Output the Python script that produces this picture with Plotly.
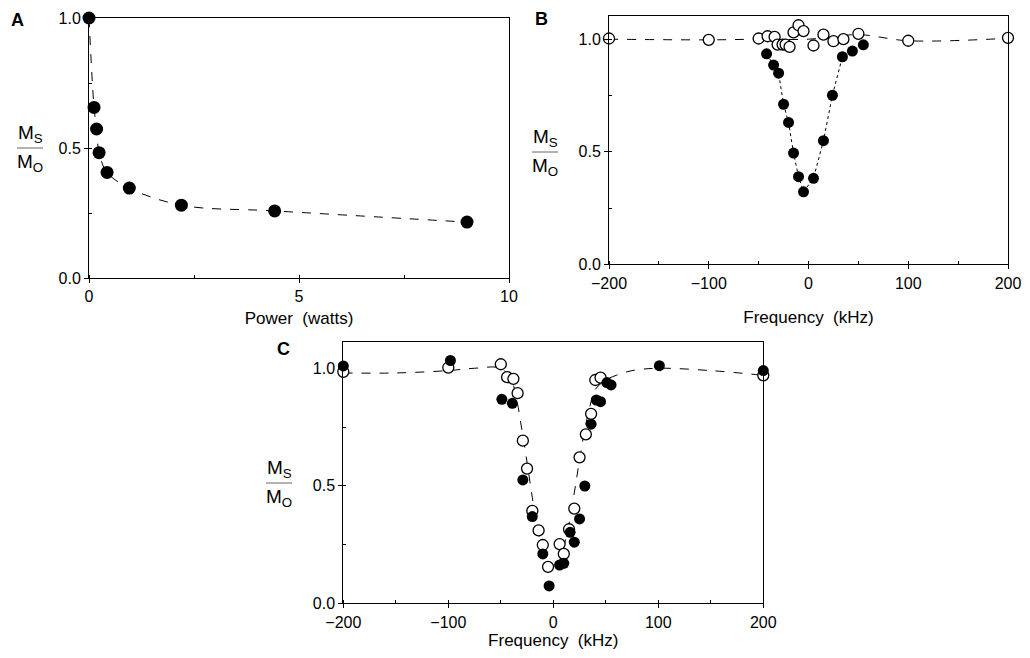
import plotly.graph_objects as go

# page has an 8px body margin; figure sized so it fits the 1030x658 window
OFF = 8
W, H = 1030 - 2 * OFF, 658 - 2 * OFF

# ---------------- Data ----------------
# Panel A: saturation vs power
a_power = [0.0, 0.12, 0.18, 0.24, 0.43, 0.96, 2.2, 4.42, 9.0]
a_ratio = [1.0, 0.656, 0.573, 0.482, 0.406, 0.346, 0.28, 0.258, 0.215]

# Panel B: frequency offset (kHz)
b_open_freq = [-200, -100, -50, -41, -34, -31, -26, -23, -19, -15, -10, -5, 5, 15, 25, 35, 50, 100, 200]
b_open_ratio = [1.003, 0.997, 1.003, 1.013, 1.01, 0.976, 0.976, 0.976, 0.966, 1.03, 1.062, 1.036,
                0.972, 1.02, 0.991, 1.0, 1.024, 0.993, 1.006]
b_open_fit_freq = [-200, -100, -50, 0, 50, 100, 200]
b_open_fit_ratio = [1.0, 0.997, 1.0, 1.0, 1.02, 0.993, 1.004]
b_fill_freq = [-42, -35, -30, -25, -20, -15, -10, -5, 5, 15, 24, 34, 44, 55]
b_fill_ratio = [0.935, 0.885, 0.849, 0.711, 0.63, 0.494, 0.389, 0.322, 0.382, 0.549, 0.751,
                0.922, 0.947, 0.975]

# Panel C
c_open_freq = [-200, -100, -50, -44, -38, -34, -29, -25, -20, -14, -10, -5, 6, 10, 15, 20, 25, 31, 36, 40, 45, 200]
c_open_ratio = [0.985, 1.003, 1.017, 0.962, 0.955, 0.894, 0.692, 0.573, 0.393, 0.31, 0.248, 0.155,
                0.252, 0.21, 0.315, 0.403, 0.621, 0.719, 0.806, 0.95, 0.96, 0.97]
c_fill_freq = [-200, -98, -49, -39, -29, -20, -10, -4, 6, 10, 16, 20, 25, 30, 36, 41, 45, 51, 55, 101, 200]
c_fill_ratio = [1.01, 1.033, 0.868, 0.851, 0.525, 0.369, 0.21, 0.074, 0.163, 0.17, 0.302, 0.26,
                0.359, 0.499, 0.762, 0.865, 0.858, 0.939, 0.929, 1.011, 0.99]
c_fit_freq = [-200, -150, -100, -75, -50, -40, -35, -30, -25, -20, -15, -10, -5, 0, 5, 10, 15,
              20, 25, 30, 35, 40, 50, 60, 75, 100, 150, 200]
c_fit_ratio = [0.98, 0.98, 0.99, 1.0, 1.0, 0.95, 0.87, 0.74, 0.6, 0.45, 0.32, 0.22, 0.16, 0.14,
               0.17, 0.24, 0.34, 0.47, 0.61, 0.74, 0.84, 0.91, 0.95, 0.97, 0.99, 1.0, 0.99, 0.97]

FONT = "Liberation Sans"


def px_x(p):
    return (p - OFF) / W


def px_y(p):
    return 1 - (p - OFF) / H


fig = go.Figure()

# Panel A
fig.add_trace(go.Scatter(x=a_power, y=a_ratio, mode="lines", line=dict(color="black", width=1, dash="dash", shape="spline"),
                         xaxis="x", yaxis="y", cliponaxis=False, hoverinfo="skip"))
fig.add_trace(go.Scatter(x=a_power, y=a_ratio, mode="markers", marker=dict(color="black", size=13),
                         xaxis="x", yaxis="y", cliponaxis=False))

# Panel B
fig.add_trace(go.Scatter(x=b_open_fit_freq, y=b_open_fit_ratio, mode="lines",
                         line=dict(color="black", width=1, dash="dash", shape="spline"),
                         xaxis="x2", yaxis="y2", cliponaxis=False, hoverinfo="skip"))
fig.add_trace(go.Scatter(x=b_fill_freq, y=b_fill_ratio, mode="lines",
                         line=dict(color="black", width=1, dash="dot"),
                         xaxis="x2", yaxis="y2", cliponaxis=False, hoverinfo="skip"))
fig.add_trace(go.Scatter(x=b_open_freq, y=b_open_ratio, mode="markers",
                         marker=dict(color="white", size=11, line=dict(color="black", width=1.3)),
                         xaxis="x2", yaxis="y2", cliponaxis=False))
fig.add_trace(go.Scatter(x=b_fill_freq, y=b_fill_ratio, mode="markers",
                         marker=dict(color="black", size=11),
                         xaxis="x2", yaxis="y2", cliponaxis=False))

# Panel C
fig.add_trace(go.Scatter(x=c_fit_freq, y=c_fit_ratio, mode="lines",
                         line=dict(color="black", width=1, dash="dash", shape="spline"),
                         xaxis="x3", yaxis="y3", cliponaxis=False, hoverinfo="skip"))
fig.add_trace(go.Scatter(x=c_open_freq, y=c_open_ratio, mode="markers",
                         marker=dict(color="white", size=11, line=dict(color="black", width=1.3)),
                         xaxis="x3", yaxis="y3", cliponaxis=False))
fig.add_trace(go.Scatter(x=c_fill_freq, y=c_fill_ratio, mode="markers",
                         marker=dict(color="black", size=11),
                         xaxis="x3", yaxis="y3", cliponaxis=False))

axis_common = dict(showline=True, linecolor="black", linewidth=1, mirror=True, ticks="outside",
                   ticklen=4, tickcolor="black", showgrid=False, zeroline=False, automargin=False,
                   tickfont=dict(family=FONT, size=16, color="black"))

yfmt = dict(tickvals=[0, 0.5, 1.0], ticktext=["0.0", "0.5", "1.0"],
            minor=dict(ticks="inside", ticklen=3, tickcolor="black", dtick=0.25))

fig.update_layout(
    width=W, height=H, paper_bgcolor="white", plot_bgcolor="white", showlegend=False,
    margin=dict(l=0, r=0, t=0, b=0, autoexpand=False),
    xaxis=dict(domain=[px_x(89), px_x(509)], range=[0, 10], tickvals=[0, 5, 10], anchor="y",
               title=dict(text="Power  (watts)", font=dict(family=FONT, size=17, color="black"), standoff=7),
               minor=dict(ticks="inside", ticklen=3, tickcolor="black", dtick=2.5), **axis_common),
    yaxis=dict(domain=[px_y(278), px_y(18)], range=[0, 1.0], anchor="x", **yfmt, **axis_common),
    xaxis2=dict(domain=[px_x(609), px_x(1008)], range=[-200, 200], tickvals=[-200, -100, 0, 100, 200], anchor="y2",
                title=dict(text="Frequency  (kHz)", font=dict(family=FONT, size=17, color="black"), standoff=20),
                minor=dict(ticks="inside", ticklen=3, tickcolor="black", dtick=50), **axis_common),
    yaxis2=dict(domain=[px_y(264.3), px_y(16)], range=[0, 1.103], anchor="x2", **yfmt, **axis_common),
    xaxis3=dict(domain=[px_x(343.3), px_x(763.3)], range=[-200, 200], tickvals=[-200, -100, 0, 100, 200], anchor="y3",
                title=dict(text="Frequency  (kHz)", font=dict(family=FONT, size=17, color="black"), standoff=9),
                minor=dict(ticks="inside", ticklen=3, tickcolor="black", dtick=50), **axis_common),
    yaxis3=dict(domain=[px_y(603.3), px_y(341.7)], range=[0, 1.113], anchor="x3", **yfmt, **axis_common),
)

annots = []
for label, lx, ly in [("A", 17, 20), ("B", 541, 19), ("C", 283, 349)]:
    annots.append(dict(text="<b>%s</b>" % label, x=px_x(lx), y=px_y(ly), xref="paper", yref="paper",
                       xanchor="center", yanchor="middle",
                       showarrow=False, font=dict(family=FONT, size=18, color="black")))

shapes = []
for cx, cy in [(30, 148), (545, 152), (279, 483)]:
    annots.append(dict(text="M<sub>S</sub>", x=px_x(cx), y=px_y(cy - 14), xref="paper", yref="paper",
                       xanchor="center", yanchor="middle",
                       showarrow=False, font=dict(family=FONT, size=19, color="black")))
    annots.append(dict(text="M<sub>O</sub>", x=px_x(cx), y=px_y(cy + 15), xref="paper", yref="paper",
                       xanchor="center", yanchor="middle",
                       showarrow=False, font=dict(family=FONT, size=19, color="black")))
    shapes.append(dict(type="line", xref="paper", yref="paper", x0=px_x(cx - 13), x1=px_x(cx + 13),
                       y0=px_y(cy), y1=px_y(cy), line=dict(color="#666", width=1)))

fig.update_layout(annotations=annots, shapes=shapes)

fig.write_html("out.html")
